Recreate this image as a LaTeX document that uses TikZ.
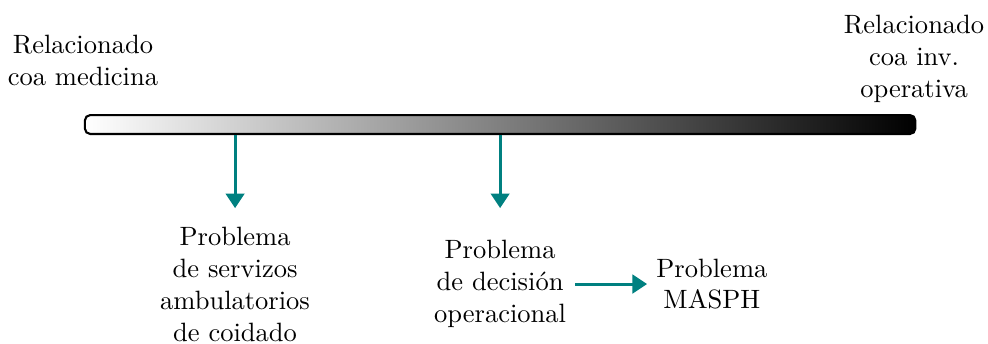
\documentclass[tikz,border=0pt]{standalone}
\usepackage{tikz}
\usetikzlibrary{positioning,arrows.meta}
\definecolor{arrowColor}{RGB}{0,128,128}
\tikzstyle{lamina} = [y = -1cm, every node/.style={align=center}]
\tikzstyle{barStyle} = [draw=black, thick, rounded corners = .07cm, left color=white, right color=black, minimum width=11.01cm, minimum height=.25cm, inner sep=0pt]
\tikzstyle{arrowStyle} = [color=arrowColor, line width=1.1pt, -{Triangle[width=7pt,length=5.5pt]}]

\begin{document}
\begin{tikzpicture}[lamina]
  \useasboundingbox (0,0) rectangle (13.10,4.55);
  % barra de gradiente
  \node [barStyle] (bar) at (6.631,1.651) {};
  % extremos da barra
  \node (medicina) at (1.10,0.796) {Relacionado\\coa medicina};
  \node (operativa) at (12.12,0.78) {Relacionado\\coa inv.\\operativa};
  % problemas
  \node (servizos) at (3.117,3.77) {Problema\\de servizos\\ambulatorios\\de coidado};
  \node (decision) at (6.631,3.766) {Problema\\de decisión\\operacional};
  \node [right = 0.95cm of decision] (masph) {Problema\\MASPH};
  % frechas desde a barra
  \coordinate (servizosTip) at (3.117,2.759);
  \coordinate (decisionTip) at (6.631,2.759);
  \draw [arrowStyle] (bar.south -| servizosTip) -- (servizosTip);
  \draw [arrowStyle] (bar.south -| decisionTip) -- (decisionTip);
  \draw [arrowStyle] (decision) -- (masph);
\end{tikzpicture}
\end{document}
